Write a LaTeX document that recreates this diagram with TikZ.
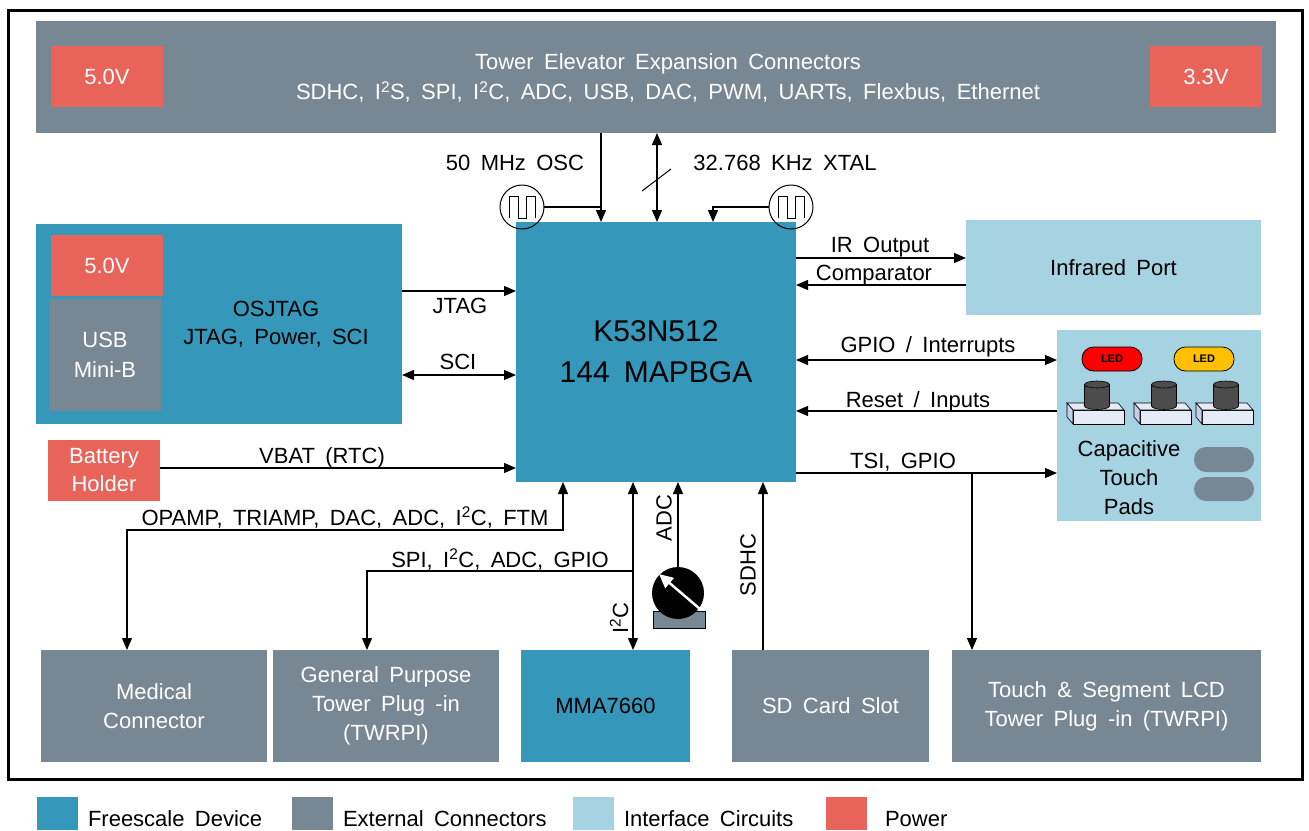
\documentclass[tikz,border=0pt]{standalone}
\usepackage{fontspec}
\setmainfont{Liberation Sans}[WordSpace=1.7]
\usetikzlibrary{arrows.meta}

\definecolor{devteal}{HTML}{3598BA}
\definecolor{extgray}{HTML}{788794}
\definecolor{ifblue}{HTML}{A6D3E2}
\definecolor{pwrred}{HTML}{E8635A}
\definecolor{ledyellow}{HTML}{FFC000}
\definecolor{padface}{HTML}{E6ECF7}
\definecolor{padside}{HTML}{C5CFE8}

\tikzset{
  box/.style={rectangle, inner sep=0pt, outer sep=0pt, align=center, anchor=north west,
    font=\fontsize{22}{28}\selectfont},
  dev/.style={box, fill=devteal},
  ext/.style={box, fill=extgray, text=white},
  ifc/.style={box, fill=ifblue},
  pwr/.style={box, fill=pwrred, text=white},
  lbl/.style={inner sep=0pt, outer sep=0pt, anchor=base, font=\fontsize{22}{26}\selectfont},
  osc/.style={circle, draw, line width=1pt, minimum size=44pt, inner sep=0pt, outer sep=0pt},
  link/.style={line width=1.2pt, -{Triangle[length=12pt,width=10pt]}},
  bilink/.style={line width=1.2pt, {Triangle[length=12pt,width=10pt]}-{Triangle[length=12pt,width=10pt]}},
  led/.style={rectangle, draw, line width=0.8pt, rounded corners=11.5pt, minimum width=60pt,
    minimum height=24pt, inner sep=0pt, font=\bfseries\fontsize{11}{12}\selectfont},
}

\begin{document}
\begin{tikzpicture}[x=1pt,y=-1pt]
\useasboundingbox (0,0) rectangle (1309,830);
\draw[line width=3pt] (8,10) rectangle (1302,779);

% top connectors
\node[ext, minimum width=1240, minimum height=112] (tower) at (36,21) {};
\node[text=white, align=center, inner sep=0pt, font=\fontsize{22}{30}\selectfont] (towertxt) at (668,78)
  {Tower Elevator Expansion Connectors\\SDHC, I\textsuperscript{2}S, SPI, I\textsuperscript{2}C, ADC, USB, DAC, PWM, UARTs, Flexbus, Ethernet};
\node[pwr, minimum width=112, minimum height=61] (pwrtop) at (51,46) {5.0V};
\node[pwr, minimum width=112, minimum height=61] (pwrtop3) at (1150,46) {3.3V};

% MCU
\node[dev, minimum width=280, minimum height=260, font=\fontsize{30}{41}\selectfont] (mcu) at (516,222) {K53N512\\144 MAPBGA};

% OSJTAG
\node[dev, minimum width=366, minimum height=200] (osj) at (36,224) {};
\node[pwr, minimum width=112, minimum height=61] (pwrosj) at (51,235) {5.0V};
\node[ext, minimum width=112, minimum height=112, font=\fontsize{22}{30}\selectfont] (usb) at (49,299) {USB\\Mini-B};
\node[align=center, inner sep=0pt, font=\fontsize{22}{28}\selectfont] (osjtxt) at (276,324) {OSJTAG\\JTAG, Power, SCI};
\node[pwr, minimum width=112, minimum height=61] (bat) at (48,440) {Battery\\Holder};

% right side
\node[ifc, minimum width=295, minimum height=95] (irport) at (966,220) {Infrared Port};
\node[ifc, minimum width=204, minimum height=191] (touch) at (1057,330) {};
\node[align=center, inner sep=0pt, font=\fontsize{22}{29}\selectfont] (touchtxt) at (1129,478) {Capacitive\\Touch\\Pads};
\node[led, fill=red] (ledr) at (1112,359) {LED};
\node[led, fill=ledyellow] (ledy) at (1204,359) {LED};
\foreach \bx/\cx in {1073/1097, 1140/1164, 1202/1226} {
  \filldraw[fill=padface, line width=0.6pt] (\bx,410) rectangle (\bx+51,424);
  \filldraw[fill=padface, line width=0.6pt] (\bx-6,403) -- (\bx+45,403) -- (\bx+51,410) -- (\bx,410) -- cycle;
  \filldraw[fill=padside, line width=0.6pt] (\bx-6,403) -- (\bx,410) -- (\bx,424) -- (\bx-6,417) -- cycle;
  \filldraw[fill=black!70, line width=0.6pt] (\cx-12.5,384.5) -- (\cx-12.5,406)
    arc[start angle=180, end angle=0, x radius=12.5, y radius=3.5] -- (\cx+12.5,384.5) -- cycle;
  \filldraw[fill=black!70, line width=0.6pt] (\cx,384.5) ellipse[x radius=12.5, y radius=3.5];
}
\fill[extgray, rounded corners=12pt] (1194,447) rectangle (1254,472);
\fill[extgray, rounded corners=12pt] (1194,477) rectangle (1254,501);

% bottom row
\node[ext, minimum width=226, minimum height=112, font=\fontsize{22}{29}\selectfont] (med) at (41,650) {Medical\\Connector};
\node[ext, minimum width=226, minimum height=112, font=\fontsize{22}{29}\selectfont] (gp) at (273,650) {General Purpose\\Tower Plug -in\\(TWRPI)};
\node[dev, minimum width=169, minimum height=112] (mma) at (521,650) {MMA7660};
\node[ext, minimum width=197, minimum height=112] (sd) at (732,650) {SD Card Slot};
\node[ext, minimum width=309, minimum height=112, font=\fontsize{22}{29}\selectfont] (lcd) at (952,650) {Touch \& Segment LCD\\Tower Plug -in (TWRPI)};

% oscillators
\node[osc] (osc50) at (522,207) {};
\node[osc] (xtal) at (791,207) {};
\foreach \o in {osc50, xtal}
  \draw[line width=1pt] ([shift={(-13,11)}]\o.center) -- ++(0,-22) -- ++(9,0) -- ++(0,22) -- ++(8,0)
    -- ++(0,-22) -- ++(9,0) -- ++(0,22);
\node[lbl] at (515,170) {50 MHz OSC};
\node[lbl] at (785,170) {32.768 KHz XTAL};
\draw[link] (tower.south -| 601,0) -- (mcu.north -| 601,0);
\draw[line width=1.2pt] (osc50.east) -- (osc50.east -| 601,0);
\draw[bilink] (tower.south -| 657,0) -- (mcu.north -| 657,0);
\draw[line width=1pt] (642,191) -- (671,169);
\draw[link] (xtal.west) -| (mcu.north -| 713,0);

% left links
\draw[link] (osj.east |- 0,291) -- (mcu.west |- 0,291);
\node[lbl] at (460,313) {JTAG};
\draw[bilink] (osj.east |- 0,375) -- (mcu.west |- 0,375);
\node[lbl] at (458,369) {SCI};
\draw[link] (bat.east |- 0,468) -- (mcu.west |- 0,468);
\node[lbl] at (322,463) {VBAT (RTC)};

% right links
\draw[link] (mcu.east |- 0,258) -- (irport.west |- 0,258);
\node[lbl] at (880,252) {IR Output};
\draw[link] (irport.west |- 0,285) -- (mcu.east |- 0,285);
\node[lbl] at (874,280) {Comparator};
\draw[bilink] (mcu.east |- 0,360) -- (touch.west |- 0,360);
\node[lbl] at (928,352) {GPIO / Interrupts};
\draw[link] (touch.west |- 0,411) -- (mcu.east |- 0,411);
\node[lbl] at (918,407) {Reset / Inputs};
\draw[link] (mcu.east |- 0,473) -- (touch.west |- 0,473);
\node[lbl] at (903,468) {TSI, GPIO};
\draw[link] (972,473) -- (lcd.north -| 972,0);

% bottom links
\draw[bilink] (mcu.south -| 563,0) |- (127,530) -- (med.north -| 127,0);
\node[lbl] at (345,525) {OPAMP, TRIAMP, DAC, ADC, I\textsuperscript{2}C, FTM};
\draw[link] (633,571) -| (gp.north -| 367,0);
\node[lbl] at (500,567) {SPI, I\textsuperscript{2}C, ADC, GPIO};
\draw[bilink] (mcu.south -| 633,0) -- (mma.north -| 633,0);
\node[lbl, anchor=center, rotate=90] at (619,618) {I\textsuperscript{2}C};
\filldraw[fill=extgray, line width=0.6pt] (653,611) rectangle (705,628);
\node[circle, fill=black, minimum size=52pt, inner sep=0pt, outer sep=0pt] (pot) at (678,593) {};
\draw[white, line width=2.5pt, -{Triangle[length=14pt,width=13pt]}] (700,609) -- (659,574);
\draw[link] (pot.north) -- (mcu.south -| pot.north);
\node[lbl, anchor=center, rotate=90] at (664,518) {ADC};
\draw[link] (sd.north -| 763,0) -- (mcu.south -| 763,0);
\node[lbl, anchor=center, rotate=90] at (748,565) {SDHC};

% legend
\fill[devteal] (37,797) rectangle (78,830);
\node[lbl, anchor=base west] at (88,826) {Freescale Device};
\fill[extgray] (292,797) rectangle (333,830);
\node[lbl, anchor=base west] at (343,826) {External Connectors};
\fill[ifblue] (573,797) rectangle (614,830);
\node[lbl, anchor=base west] at (624,826) {Interface Circuits};
\fill[pwrred] (826,797) rectangle (867,830);
\node[lbl, anchor=base west] at (885,826) {Power};
\end{tikzpicture}
\end{document}
